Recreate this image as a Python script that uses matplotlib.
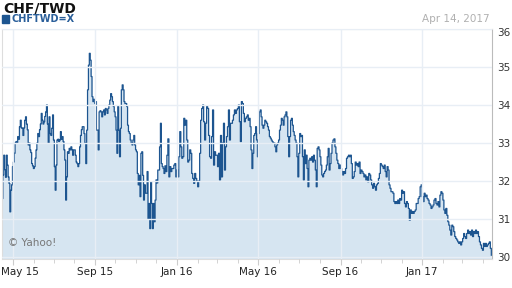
"""Grafica CHF/TWD (2 anios) al estilo de Yahoo Finance."""

import matplotlib

matplotlib.use("Agg")

import matplotlib.dates as mdates
import matplotlib.pyplot as plt
import matplotlib.transforms as mtransforms
import numpy as np
import pandas as pd

# ── Datos (cierre CHF/TWD por tramos) ────────────────────────────────────────

LIMITES_TRAMOS = [
    "2015-04-15", "2015-08-14", "2015-12-14",
    "2016-04-15", "2016-08-15", "2016-12-17", "2017-04-14",
]

TRAMO_1 = [
    31.54, 32.16, 32.68, 32.3, 32.1, 32.68, 32.42, 32.11, 31.94, 31.19, 31.76, 31.9,
    32.38, 32.5, 32.73, 33.0, 33.04, 33.0, 33.17, 33.1, 33.43, 33.6, 33.4, 33.39,
    33.2, 33.4, 33.6, 33.69, 33.5, 33.35, 32.95, 33.0, 32.82, 32.75, 32.46, 32.4,
    32.33, 32.38, 32.6, 32.82, 33.0, 33.25, 33.17, 33.35, 33.5, 33.78, 33.6, 33.5,
    33.56, 33.7, 33.82, 34.0, 33.5, 33.0, 33.69, 33.25, 33.2, 33.39, 33.74, 33.08,
    32.38, 31.76, 32.42, 33.08, 33.1, 33.04, 33.08, 33.3, 33.1, 33.17, 33.04, 32.82,
    32.55, 31.5, 32.11, 32.77, 32.73, 32.86, 32.82, 32.9, 32.82, 32.68, 32.82, 32.82,
    32.68, 32.5, 32.46, 32.38, 32.46, 32.9, 33.2, 33.35, 33.43,
]
TRAMO_2 = [
    33.43, 33.25, 33.0, 32.46, 33.34, 34.4, 35.05, 35.36, 35.18, 34.75, 34.22, 34.09,
    34.15, 34.04, 34.09, 33.34, 33.34, 32.82, 33.82, 33.85, 33.82, 33.69, 33.82, 33.87,
    33.74, 33.91, 33.87, 33.78, 33.91, 34.0, 34.13, 34.3, 34.22, 34.09, 33.96, 33.82,
    33.69, 33.34, 32.73, 33.96, 33.34, 32.64, 33.39, 34.4, 34.53, 34.4, 34.09, 34.04,
    34.04, 33.96, 33.47, 33.3, 33.25, 33.08, 33.0, 32.95, 33.08, 33.2, 32.95, 32.82,
    32.77, 32.2, 31.9, 32.15, 31.59, 32.73, 32.77, 32.15, 31.5, 31.9, 31.68, 31.68,
    32.25, 31.0, 31.41, 30.75, 31.98, 31.41, 30.75, 31.41, 30.93, 31.5, 32.03, 31.95,
    32.29, 32.29, 32.9, 33.52, 32.46, 32.38, 32.33, 32.2,
]
TRAMO_3 = [
    32.4, 32.25, 32.68, 33.11, 32.11, 32.38, 32.25, 32.33, 32.33, 32.42, 32.46, 32.11,
    32.29, 32.11, 32.64, 33.3, 32.9, 32.6, 32.64, 33.65, 33.47, 33.6, 33.08, 32.5,
    32.55, 32.82, 32.73, 32.2, 32.07, 31.94, 32.2, 32.07, 32.0, 31.85, 32.0, 32.73,
    33.6, 33.91, 34.0, 33.56, 33.08, 33.52, 33.96, 33.91, 33.2, 32.64, 32.6, 33.17,
    33.87, 32.42, 32.77, 32.68, 32.68, 32.38, 32.73, 32.03, 33.2, 32.11, 33.0, 33.52,
    32.29, 32.9, 33.17, 33.43, 33.87, 33.08, 33.52, 33.52, 33.6, 33.74, 33.87, 33.78,
    33.87, 33.91, 34.0, 33.56, 33.04, 34.09, 34.04, 33.78, 33.56, 33.65, 33.69,
]
TRAMO_4 = [
    33.74, 33.6, 33.65, 33.43, 32.82, 32.33, 32.73, 33.2, 33.25, 33.43, 33.08, 32.64,
    33.25, 33.82, 33.87, 33.69, 33.47, 33.39, 33.47, 33.6, 33.56, 33.52, 33.43, 33.34,
    33.17, 33.13, 33.08, 33.04, 33.0, 33.0, 32.9, 32.77, 32.95, 33.0, 33.08, 33.34,
    33.47, 33.65, 33.6, 33.47, 33.69, 33.74, 33.82, 33.69, 33.17, 32.64, 33.17, 33.6,
    33.65, 33.47, 33.3, 33.2, 33.08, 33.0, 32.64, 32.11, 32.73, 33.25, 33.17, 33.2,
    32.64, 32.03, 32.82, 32.46, 32.68, 32.33, 31.85, 32.55, 32.6, 32.55, 32.64, 32.5,
    32.68, 32.55, 32.29, 31.85, 32.86, 32.9, 32.82, 32.64, 32.42, 32.16, 32.11, 32.2,
    32.25, 32.29, 32.42, 32.64, 32.86,
]
TRAMO_5 = [
    32.29, 32.46, 32.73, 33.0, 33.08, 33.11, 32.9, 32.73, 32.55, 32.46, 32.33, 32.42,
    32.33, 32.25, 32.16, 32.25, 32.2, 32.33, 32.6, 32.64, 32.68, 32.64, 32.68, 32.46,
    32.07, 32.11, 32.25, 32.5, 32.42, 32.46, 32.38, 32.5, 32.2, 32.29, 32.25, 32.2,
    32.11, 32.16, 32.03, 32.11, 31.98, 32.2, 32.16, 32.03, 31.9, 31.81, 31.94, 31.85,
    31.76, 31.9, 31.94, 32.07, 32.2, 32.46, 32.42, 32.38, 32.33, 32.42, 32.25, 32.11,
    32.38, 32.29, 31.9, 31.81, 31.72, 31.72, 31.68, 31.46, 31.41, 31.46, 31.41, 31.5,
    31.41, 31.54, 31.5, 31.76, 31.68, 31.72, 31.41, 31.32, 31.46, 31.41, 31.28, 30.97,
    31.24, 31.15,
]
TRAMO_6 = [
    31.2, 31.15, 31.2, 31.24, 31.41, 31.41, 31.54, 31.59, 31.85, 31.9, 31.59, 31.46,
    31.68, 31.59, 31.63, 31.54, 31.5, 31.41, 31.37, 31.28, 31.32, 31.37, 31.5, 31.54,
    31.41, 31.37, 31.46, 31.32, 31.63, 31.72, 31.68, 31.5, 31.24, 31.15, 31.28, 31.1,
    30.93, 30.84, 30.71, 30.58, 30.84, 30.8, 30.67, 30.54, 30.49, 30.45, 30.4, 30.36,
    30.4, 30.32, 30.4, 30.49, 30.62, 30.54, 30.49, 30.62, 30.71, 30.62, 30.67, 30.58,
    30.71, 30.54, 30.67, 30.62, 30.71, 30.62, 30.67, 30.54, 30.4, 30.32, 30.23, 30.18,
    30.36, 30.28, 30.36, 30.28, 30.32, 30.36, 30.4, 30.23, 30.05,
]
TRAMOS = [TRAMO_1, TRAMO_2, TRAMO_3, TRAMO_4, TRAMO_5, TRAMO_6]

TITULO = "CHF/TWD"
SIMBOLO = "CHFTWD=X"
FECHA = "Apr 14, 2017"
Y_TICKS = [30, 31, 32, 33, 34, 35, 36]

COLOR_LINEA = "#1d5590"
COLOR_RELLENO = "#d6e5f1"
COLOR_REJILLA = "#e8eef5"


def _construir_serie():
    """Une los tramos asignando fechas uniformes dentro de cada tramo."""
    limites = [mdates.date2num(pd.Timestamp(f)) for f in LIMITES_TRAMOS]
    fechas, valores = [], []
    for i, tramo in enumerate(TRAMOS):
        ultimo = i == len(TRAMOS) - 1
        x = np.linspace(limites[i], limites[i + 1], len(tramo), endpoint=ultimo)
        fechas.extend(x)
        valores.extend(tramo)
    return np.array(fechas), np.array(valores)


def main() -> None:
    fechas, valores = _construir_serie()

    fig = plt.figure(figsize=(5.12, 2.88), dpi=100)
    ax = fig.add_axes((2 / 512, 29 / 288, 490 / 512, 230 / 288))

    ax.fill_between(fechas, valores, 29.0, step="post", color=COLOR_RELLENO, lw=0)
    ax.plot(fechas, valores, drawstyle="steps-post", color=COLOR_LINEA, lw=0.9)

    ax.set_xlim(fechas[0], fechas[-1] + 1)
    ax.set_ylim(29.95, 36.0)

    ax.xaxis.set_major_locator(mdates.MonthLocator(bymonth=[1, 5, 9]))
    ax.xaxis.set_major_formatter(mdates.DateFormatter("%b %y"))
    ax.xaxis.set_minor_locator(mdates.MonthLocator())
    ax.set_yticks(Y_TICKS)
    ax.yaxis.tick_right()

    ax.tick_params(axis="x", which="major", length=4, color="#cccccc",
                   labelsize=7.5, labelcolor="#222222", pad=2)
    ax.tick_params(axis="x", which="minor", length=3, color="#cccccc")
    ax.tick_params(axis="y", length=0, labelsize=7.5, labelcolor="#333333", pad=4)

    ax.grid(True, which="major", color=COLOR_REJILLA, lw=1.0)
    ax.set_axisbelow(False)
    for linea in ax.get_xgridlines() + ax.get_ygridlines():
        linea.set_zorder(1.5)

    for lado in ("left", "top", "bottom"):
        ax.spines[lado].set_color("#dddddd")
    ax.spines["right"].set_color("#bbbbbb")

    # la primera etiqueta (May 15) se desplaza para que no quede cortada
    fig.canvas.draw()
    primera = ax.get_xticklabels()[0]
    primera.set_horizontalalignment("left")
    primera.set_transform(
        primera.get_transform()
        + mtransforms.ScaledTranslation(-12 / 100, 0, fig.dpi_scale_trans)
    )
    # la etiqueta superior (36) baja un poco como en el original
    superior = ax.get_yticklabels()[-1]
    superior.set_transform(
        superior.get_transform()
        + mtransforms.ScaledTranslation(0, -3 / 100, fig.dpi_scale_trans)
    )

    fig.text(3 / 512, 1 - 1.5 / 288, TITULO, fontsize=10, fontweight="bold",
             color="#111111", va="top")
    fig.patches.append(plt.Rectangle((2 / 512, 1 - 23 / 288), 7 / 512, 8 / 288,
                                     transform=fig.transFigure, color=COLOR_LINEA))
    fig.text(12 / 512, 1 - 19 / 288, SIMBOLO, fontsize=7, fontweight="bold",
             color="#2a5f9a", va="center")
    fig.text(490 / 512, 1 - 19 / 288, FECHA, fontsize=7.5, color="#b0b0b0",
             ha="right", va="center")
    ax.text(0.012, 0.07, "© Yahoo!", transform=ax.transAxes, fontsize=7.5,
            color="#777777", va="center")

    fig.savefig("out.png", dpi=100)


if __name__ == "__main__":
    main()
